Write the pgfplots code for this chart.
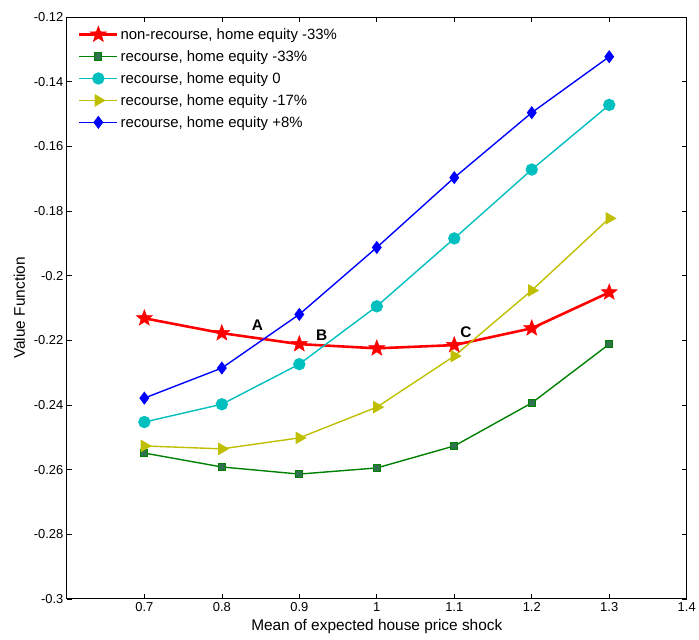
\documentclass[border=0pt]{standalone}
\usepackage{fontspec}
\setmainfont{Liberation Sans}
\usepackage{pgfplots}
\pgfplotsset{compat=1.18}
\usetikzlibrary{plotmarks}
\pgfdeclareplotmark{fstar}{%
  \pgfpathmoveto{\pgfpointpolar{90}{\pgfplotmarksize}}%
  \pgfpathlineto{\pgfpointpolar{126}{0.42\pgfplotmarksize}}%
  \pgfpathlineto{\pgfpointpolar{162}{\pgfplotmarksize}}%
  \pgfpathlineto{\pgfpointpolar{198}{0.42\pgfplotmarksize}}%
  \pgfpathlineto{\pgfpointpolar{234}{\pgfplotmarksize}}%
  \pgfpathlineto{\pgfpointpolar{270}{0.42\pgfplotmarksize}}%
  \pgfpathlineto{\pgfpointpolar{306}{\pgfplotmarksize}}%
  \pgfpathlineto{\pgfpointpolar{342}{0.42\pgfplotmarksize}}%
  \pgfpathlineto{\pgfpointpolar{18}{\pgfplotmarksize}}%
  \pgfpathlineto{\pgfpointpolar{54}{0.42\pgfplotmarksize}}%
  \pgfpathclose
  \pgfusepathqfillstroke}
\definecolor{mgreen}{rgb}{0,0.5,0}
\definecolor{mgreenfill}{rgb}{0.18,0.45,0.3}
\definecolor{mcyan}{rgb}{0,0.75,0.75}
\definecolor{myellow}{rgb}{0.75,0.75,0}
\begin{document}
\begin{tikzpicture}
\begin{axis}[
  scale only axis,
  width=621bp, height=583bp,
  xmin=0.6, xmax=1.4, ymin=-0.3, ymax=-0.12,
  xtick={0.7,0.8,...,1.4},
  xticklabels={0.7,0.8,0.9,1,1.1,1.2,1.3,1.4},
  ytick={-0.3,-0.28,...,-0.12},
  yticklabels={-0.3,-0.28,-0.26,-0.24,-0.22,-0.2,-0.18,-0.16,-0.14,-0.12},
  tick align=inside,
  major tick length=5bp,
  tick style={black, line width=0.6pt},
  axis line style={line width=0.8pt},
  /pgf/number format/assume math mode=true,
  ticklabel style={font=\fontsize{13}{15}\selectfont},
  label style={font=\fontsize{15.5}{17}\selectfont},
  xlabel={Mean of expected house price shock},
  ylabel={Value Function},
  xlabel style={at={(axis description cs:0.5,-0.048)}, anchor=center},
  ylabel style={at={(axis description cs:-0.0765,0.5)}, anchor=center, rotate=0},
  legend style={at={(0.013,0.988)}, anchor=north west, draw=none, fill=none,
    font=\fontsize{15}{17}\selectfont, row sep=5.7pt},
  legend cell align=left,
  legend image code/.code={%
    \draw[mark repeat=2,mark phase=2] plot coordinates {(0cm,0cm) (0.67cm,0cm) (1.34cm,0cm)};},
]
\addplot[red, line width=2.6pt, mark=fstar, mark size=8.5pt, mark options={fill=red, draw=red, line width=0.5pt}]
 coordinates {(0.7,-0.2132) (0.8,-0.2178) (0.9,-0.2212) (1.0,-0.2225) (1.1,-0.2215) (1.2,-0.2163) (1.3,-0.2052)};
\addlegendentry{non-recourse, home equity -33\%}
\addplot[mgreen, line width=1.4pt, mark=square*, mark size=3.6pt, mark options={fill=mgreenfill, draw=mgreen, line width=1pt}]
 coordinates {(0.7,-0.2549) (0.8,-0.2592) (0.9,-0.2614) (1.0,-0.2595) (1.1,-0.2527) (1.2,-0.2394) (1.3,-0.2212)};
\addlegendentry{recourse, home equity -33\%}
\addplot[mcyan, line width=1.4pt, mark=*, mark size=5.5pt, mark options={fill=mcyan, draw=mcyan}]
 coordinates {(0.7,-0.2453) (0.8,-0.2398) (0.9,-0.2274) (1.0,-0.2095) (1.1,-0.1885) (1.2,-0.1672) (1.3,-0.1472)};
\addlegendentry{recourse, home equity 0}
\addplot[myellow, line width=1.4pt, mark=triangle*, mark size=6pt, mark options={fill=myellow, draw=myellow, rotate=-90}]
 coordinates {(0.7,-0.2527) (0.8,-0.2536) (0.9,-0.2502) (1.0,-0.2407) (1.1,-0.2249) (1.2,-0.2046) (1.3,-0.1823)};
\addlegendentry{recourse, home equity -17\%}
\addplot[blue, line width=1.4pt, mark=diamond*, mark size=5.5pt, mark options={fill=blue, draw=blue}]
 coordinates {(0.7,-0.2379) (0.8,-0.2286) (0.9,-0.2120) (1.0,-0.1913) (1.1,-0.1697) (1.2,-0.1496) (1.3,-0.1323)};
\addlegendentry{recourse, home equity +8\%}
\node[font=\fontsize{15.5}{17}\selectfont\bfseries] at (axis cs:0.846,-0.2154) {A};
\node[font=\fontsize{15.5}{17}\selectfont\bfseries] at (axis cs:0.929,-0.2185) {B};
\node[font=\fontsize{15.5}{17}\selectfont\bfseries] at (axis cs:1.115,-0.2175) {C};
\end{axis}
\path ([xshift=-67bp,yshift=-41bp]current axis.south west) rectangle ([xshift=11bp,yshift=17bp]current axis.north east);
\end{tikzpicture}
\end{document}
